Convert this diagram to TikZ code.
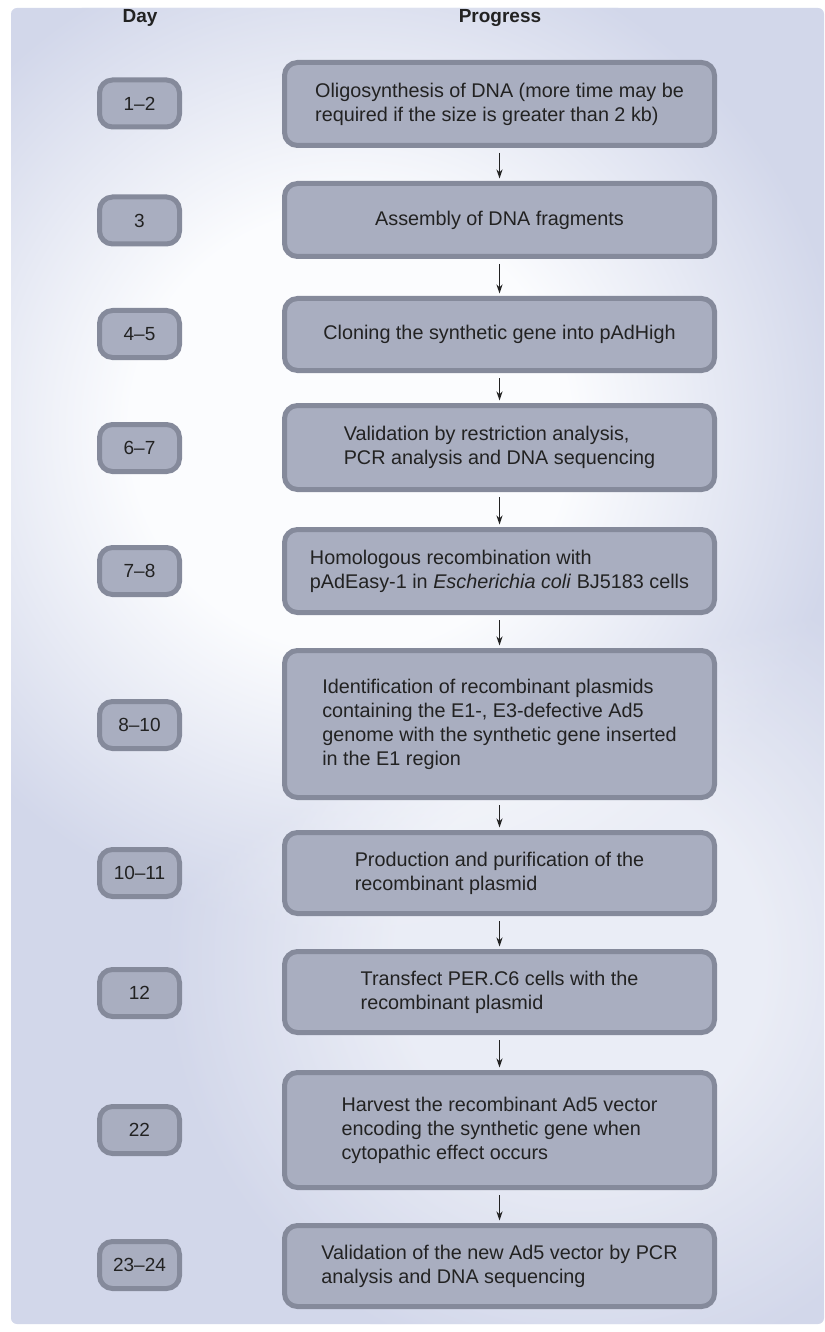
\documentclass[tikz,border=0pt]{standalone}
\usepackage{fontspec}
\setmainfont{Liberation Sans}
\usepackage{xcolor}
\usepackage{tikz}
\usetikzlibrary{arrows.meta, positioning}
\definecolor{bgblue}{HTML}{D2D7EA}
\definecolor{glowc}{HTML}{FBFCFE}
\definecolor{boxfill}{HTML}{A9AEC0}
\definecolor{boxline}{HTML}{858A9B}
\definecolor{inkc}{HTML}{222222}
\pgfdeclareradialshading{bgglow}{\pgfpoint{0bp}{0bp}}{color(0bp)=(glowc); color(11bp)=(glowc); color(25bp)=(bgblue); color(50bp)=(bgblue)}
\tikzset{
  headtxt/.style={font=\fontsize{19bp}{23bp}\selectfont\bfseries,text=inkc},
  daybox/.style={draw=boxline,fill=boxfill,line width=5bp,rounded corners=13bp,
    minimum width=80bp,minimum height=47bp,inner sep=0pt,text=inkc,
    font=\fontsize{19bp}{23bp}\selectfont},
  stepbox/.style={daybox,minimum width=430bp,align=left,
    font=\fontsize{19.8bp}{24bp}\selectfont},
  flowedge/.style={-{Stealth[length=9bp,width=6bp]},line width=1.3bp,inkc,
    shorten <=5bp,shorten >=2.5bp},
}

\begin{document}
\begin{tikzpicture}[x=1bp,y=-1bp]
  \useasboundingbox (0,0) rectangle (824,1332);
  % background panel
  \fill[bgblue,rounded corners=6bp] (11,8) rectangle (824,1324);
  \begin{scope}[blend mode=lighten]
    \clip[rounded corners=6bp] (11,8) rectangle (824,1324);
    \shade[shading=bgglow] (350,430) circle [radius=500bp];
    \shade[shading=bgglow,opacity=0.6] (580,960) circle [radius=420bp];
  \end{scope}
  \node[headtxt] (hDay) at (140,18) {Day};
  \node[headtxt] (hProg) at (500,18) {Progress};
  \node[daybox] (d1) at (139.5,103.5) {1--2};
  \node[daybox] (d2) at (139.5,220.5) {3};
  \node[daybox] (d3) at (139.5,334) {4--5};
  \node[daybox] (d4) at (139.5,448) {6--7};
  \node[daybox] (d5) at (139.5,571) {7--8};
  \node[daybox] (d6) at (139.5,725) {8--10};
  \node[daybox] (d7) at (139.5,873) {10--11};
  \node[daybox] (d8) at (139.5,993) {12};
  \node[daybox] (d9) at (139.5,1130) {22};
  \node[daybox] (d10) at (139.5,1265) {23--24};
  \node[stepbox,minimum height=83bp] (s1) at (499.5,104) {Oligosynthesis of DNA (more time may be\\required if the size is greater than 2 kb)};
  \node[stepbox,minimum height=73bp] (s2) at (499.5,220) {Assembly of DNA fragments};
  \node[stepbox,minimum height=72bp] (s3) at (499.5,334.5) {Cloning the synthetic gene into pAdHigh};
  \node[stepbox,minimum height=84bp] (s4) at (499.5,447.5) {Validation by restriction analysis,\\PCR analysis and DNA sequencing};
  \node[stepbox,minimum height=83bp] (s5) at (499.5,571) {Homologous recombination with\\pAdEasy-1 in \textit{Escherichia coli} BJ5183 cells};
  \node[stepbox,minimum height=147bp] (s6) at (499.5,724) {Identification of recombinant plasmids\\containing the E1-, E3-defective Ad5\\genome with the synthetic gene inserted\\in the E1 region};
  \node[stepbox,minimum height=81bp] (s7) at (499.5,873) {Production and purification of the\\recombinant plasmid};
  \node[stepbox,minimum height=81bp] (s8) at (499.5,992) {Transfect PER.C6 cells with the\\recombinant plasmid};
  \node[stepbox,minimum height=115bp] (s9) at (499.5,1130) {Harvest the recombinant Ad5 vector\\encoding the synthetic gene when\\cytopathic effect occurs};
  \node[stepbox,minimum height=81bp] (s10) at (499.5,1266) {Validation of the new Ad5 vector by PCR\\analysis and DNA sequencing};
  \draw[flowedge] (s1) -- (s2);
  \draw[flowedge] (s2) -- (s3);
  \draw[flowedge] (s3) -- (s4);
  \draw[flowedge] (s4) -- (s5);
  \draw[flowedge] (s5) -- (s6);
  \draw[flowedge] (s6) -- (s7);
  \draw[flowedge] (s7) -- (s8);
  \draw[flowedge] (s8) -- (s9);
  \draw[flowedge] (s9) -- (s10);
\end{tikzpicture}
\end{document}
